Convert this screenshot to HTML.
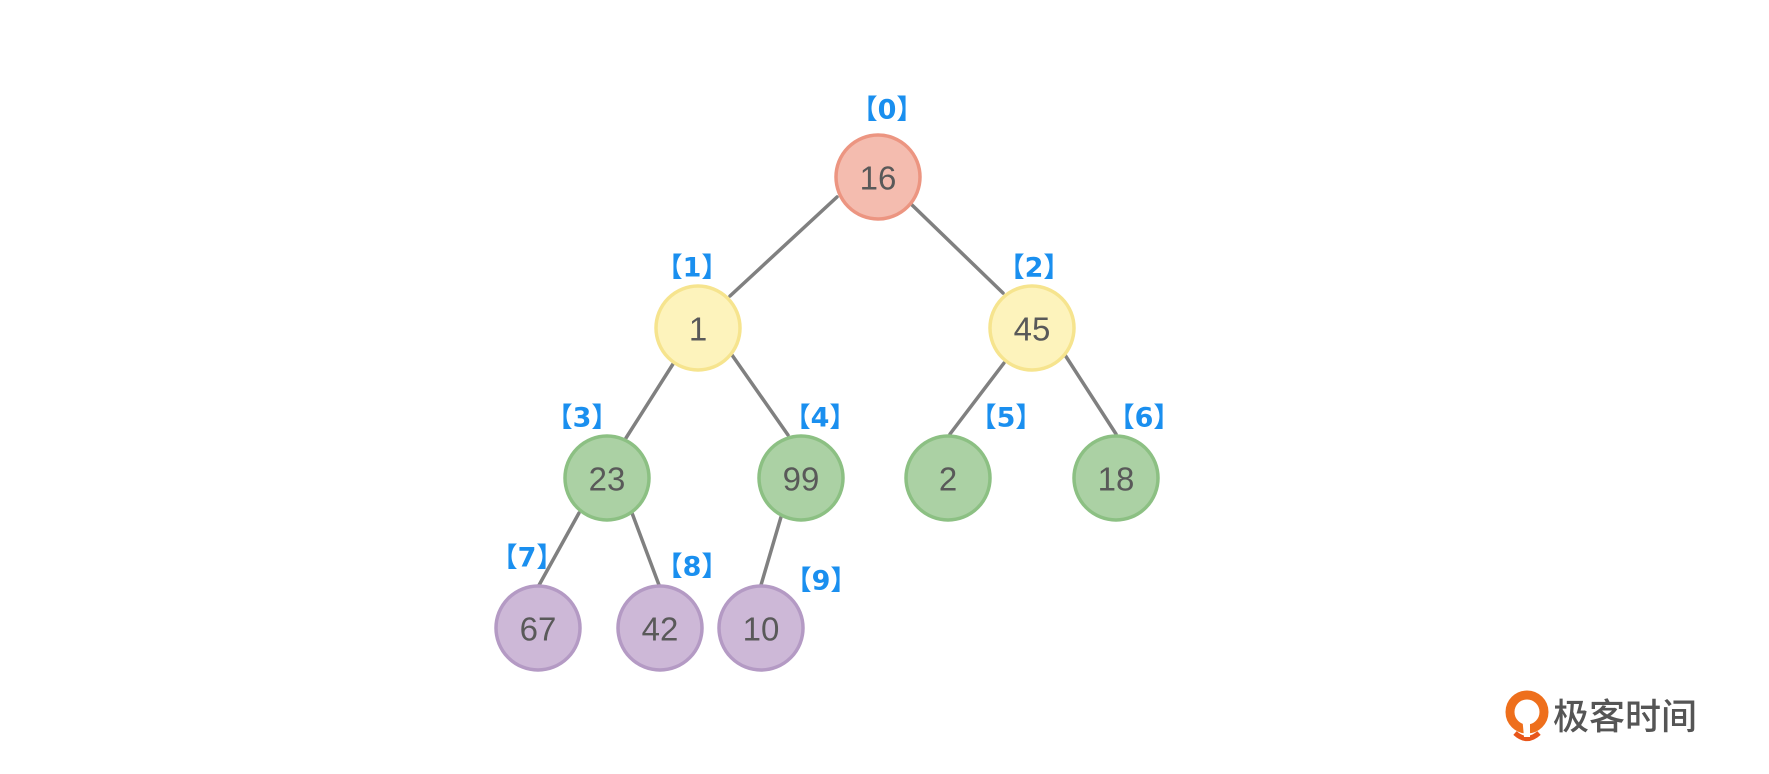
<!DOCTYPE html>
<html><head><meta charset="utf-8"><style>
html,body{margin:0;padding:0;background:#fff;}
svg{display:block}
</style></head><body>
<svg width="1769" height="774" viewBox="0 0 1769 774" xmlns="http://www.w3.org/2000/svg">
<rect width="1769" height="774" fill="#fff"/>
<g stroke="#808080" stroke-width="3.5" stroke-linecap="round">
<line x1="837" y1="197" x2="730" y2="296"/>
<line x1="911" y1="204" x2="1003" y2="293"/>
<line x1="673" y1="364" x2="626" y2="438"/>
<line x1="732" y1="355" x2="788" y2="435"/>
<line x1="1004" y1="363" x2="950" y2="434"/>
<line x1="1065" y1="355" x2="1116" y2="434"/>
<line x1="579" y1="513" x2="538" y2="587"/>
<line x1="632" y1="513" x2="659" y2="585"/>
<line x1="781" y1="517" x2="761" y2="585"/>
</g>
<g stroke-width="3.5">
<circle cx="878" cy="177" r="42" fill="#f4bcaf" stroke="#ec9581"/>
<circle cx="698" cy="328" r="42" fill="#fdf3bc" stroke="#f6e48e"/>
<circle cx="1032" cy="328" r="42" fill="#fdf3bc" stroke="#f6e48e"/>
<circle cx="607" cy="478" r="42" fill="#abd1a4" stroke="#8cc083"/>
<circle cx="801" cy="478" r="42" fill="#abd1a4" stroke="#8cc083"/>
<circle cx="948" cy="478" r="42" fill="#abd1a4" stroke="#8cc083"/>
<circle cx="1116" cy="478" r="42" fill="#abd1a4" stroke="#8cc083"/>
<circle cx="538" cy="628" r="42" fill="#cdb8d7" stroke="#b49ac4"/>
<circle cx="660" cy="628" r="42" fill="#cdb8d7" stroke="#b49ac4"/>
<circle cx="761" cy="628" r="42" fill="#cdb8d7" stroke="#b49ac4"/>
</g>
<g font-family="Liberation Sans, sans-serif" font-size="33" fill="#595959" text-anchor="middle" dominant-baseline="central">
<text x="878" y="178">16</text>
<text x="698" y="329">1</text>
<text x="1032" y="329">45</text>
<text x="607" y="479">23</text>
<text x="801" y="479">99</text>
<text x="948" y="479">2</text>
<text x="1116" y="479">18</text>
<text x="538" y="629">67</text>
<text x="660" y="629">42</text>
<text x="761" y="629">10</text>
</g>
<g font-family="DejaVu Sans, Noto Sans CJK SC, sans-serif" font-size="27" font-weight="bold" fill="#1a8fef" text-anchor="middle" dominant-baseline="central">
<text x="887" y="110">【0】</text>
<text x="692" y="268">【1】</text>
<text x="1034" y="268">【2】</text>
<text x="582" y="418">【3】</text>
<text x="820" y="418">【4】</text>
<text x="1006" y="418">【5】</text>
<text x="1144" y="418">【6】</text>
<text x="527" y="558">【7】</text>
<text x="692" y="567">【8】</text>
<text x="821" y="581">【9】</text>
</g>
<g>
<circle cx="1527" cy="712" r="17" fill="none" stroke="#ee6f1c" stroke-width="9"/>
<path d="M1515 733 Q1527 744 1539 733" fill="none" stroke="#e8561a" stroke-width="5"/>
<path d="M1521 705 L1530 705 L1530 737 L1524 737 Z" fill="#fff"/>
<text x="1553" y="729" font-family="Noto Sans CJK SC, sans-serif" font-size="36" font-weight="500" fill="#555">极客时间</text>
</g>
</svg>
</body></html>
